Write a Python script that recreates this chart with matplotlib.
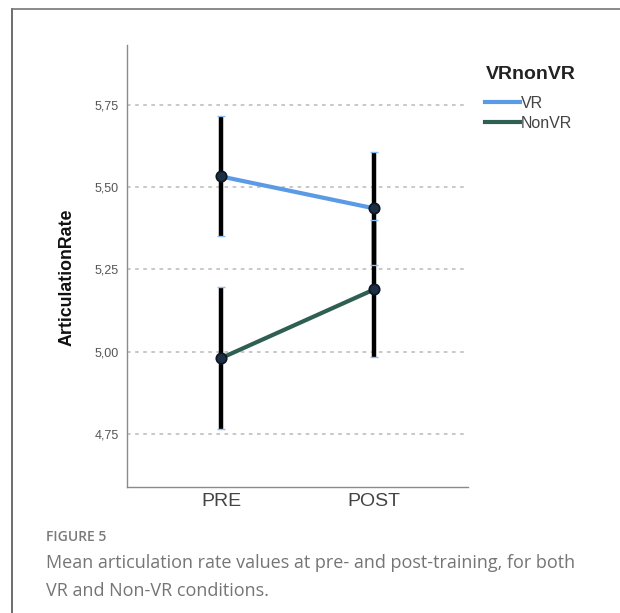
import matplotlib
matplotlib.use("Agg")
import matplotlib.pyplot as plt
from matplotlib.lines import Line2D

# ---- data ----
timepoints = ["PRE", "POST"]
groups = ["VR", "NonVR"]
vr_means = [5.533, 5.436]
vr_lower = [5.352, 5.263]
vr_upper = [5.717, 5.607]
nonvr_means = [4.980, 5.189]
nonvr_lower = [4.764, 4.984]
nonvr_upper = [5.197, 5.400]
yticks = [4.75, 5.00, 5.25, 5.50, 5.75]
ytick_labels = ["4,75", "5,00", "5,25", "5,50", "5,75"]

colors = {"VR": "#5b9be6", "NonVR": "#2f5f52"}

fig = plt.figure(figsize=(6.2, 6.13), dpi=100)
ax = fig.add_axes([127/620, 1-487/613, (468-127)/620, (487-45)/613])

x = list(range(len(timepoints)))

for g, means, lo, hi in [("VR", vr_means, vr_lower, vr_upper),
                         ("NonVR", nonvr_means, nonvr_lower, nonvr_upper)]:
    ax.plot(x, means, color=colors[g], lw=3, zorder=2, solid_capstyle="butt")
    yerr = [[m - l for m, l in zip(means, lo)], [h - m for m, h in zip(means, hi)]]
    pl, caps, bars = ax.errorbar(x, means, yerr=yerr, fmt="none", ecolor="black",
                                 elinewidth=3.2, capsize=3, capthick=1, zorder=3)
    for c in caps:
        c.set_markeredgecolor("#8cbbee")
        c.set_zorder(5)
    ax.plot(x, means, "o", ms=7.5, mfc="#1d2f45", mec="#0d1520", mew=1.2, zorder=4)

ax.set_xlim(-0.614, 1.614)
ax.set_ylim(4.588, 5.933)
ax.set_yticks(yticks)
ax.set_yticklabels(ytick_labels, fontsize=9, color="#555555", family="Liberation Sans")
ax.set_xticks(x)
ax.set_xticklabels(timepoints, fontsize=14, color="#444444", family="Liberation Sans")
ax.tick_params(axis="both", length=0)
ax.tick_params(axis="y", pad=6)
ax.tick_params(axis="x", pad=4)
for yv in yticks:
    ax.axhline(yv, color="#c4c4c4", lw=1.3, ls=(0, (2, 2.5)), zorder=1)
for s in ["top", "right"]:
    ax.spines[s].set_visible(False)
for s in ["left", "bottom"]:
    ax.spines[s].set_color("#8a8a8a")
    ax.spines[s].set_linewidth(1.0)

fig.text(67/620, 1-277/613, "ArticulationRate", rotation=90, ha="center", va="center",
         fontsize=12.8, fontweight="bold",
         family="Liberation Sans", color="#111111")

handles = [Line2D([0], [0], color=colors[g], lw=3) for g in groups]
leg = fig.legend(handles, groups, title="VRnonVR", loc="upper left",
                 bbox_to_anchor=(471/620, 1-52/613), frameon=False,
                 handlelength=2.15, handletextpad=0.05, labelspacing=0.3,
                 prop={"family": "Liberation Sans", "size": 11.5},
                 title_fontproperties={"family": "Liberation Sans", "size": 14, "weight": "bold"})
leg._legend_box.align = "left"
leg._legend_box.sep = 9
for t in leg.get_texts():
    t.set_color("#444444")
leg.get_title().set_color("#222222")

# caption
fig.text(46/620, 1-537/613, "FIGURE 5", fontsize=10, color="#7a7a7a",
         family="Open Sans", fontweight="semibold", va="center")
fig.text(46/620, 1-577/613,
         "Mean articulation rate values at pre- and post-training, for both\nVR and Non-VR conditions.",
         fontsize=13, color="#757575", family="Open Sans", va="center", linespacing=1.7)

# frame border (left and top)
fig.add_artist(Line2D([12/620, 12/620], [0, 1-8.5/613], transform=fig.transFigure,
                      color="#555555", lw=1.2))
fig.add_artist(Line2D([12/620, 1], [1-8.5/613, 1-8.5/613], transform=fig.transFigure,
                      color="#777777", lw=1.2))

fig.savefig("out.png", dpi=100)
